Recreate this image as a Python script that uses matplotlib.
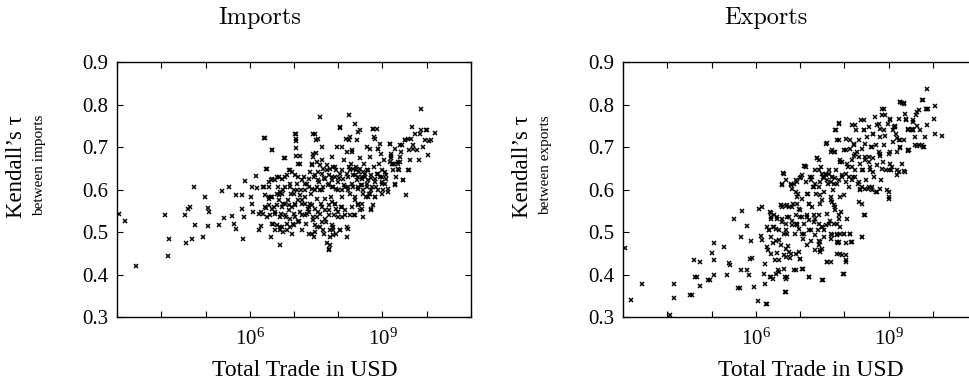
import matplotlib
matplotlib.use("Agg")
import matplotlib.pyplot as plt
from matplotlib.ticker import FixedLocator, FixedFormatter

plt.rcParams['font.family'] = ['Liberation Serif', 'DejaVu Serif']
plt.rcParams['mathtext.fontset'] = 'custom'
plt.rcParams['mathtext.rm'] = 'Liberation Serif'
plt.rcParams['mathtext.it'] = 'Liberation Serif:italic'

# ---------------- data (log10 of total trade in USD, Kendall's tau) ----------------
imports_log_trade = [
    3.05, 3.19, 3.44, 4.08, 4.16, 4.18, 4.53, 4.57, 4.61, 4.65, 4.70, 4.75, 4.76, 4.94, 4.99,
    5.05, 5.06, 5.08, 5.30, 5.38, 5.41, 5.52, 5.61, 5.64, 5.68, 5.69, 5.83, 5.83, 5.85, 5.90, 5.88,
    6.02, 6.04, 6.07, 6.05, 6.15, 6.17, 6.20, 6.22, 6.26, 6.25,
    6.32, 6.32, 6.37, 6.38, 6.43, 6.44, 6.47, 6.50, 6.47, 6.49, 6.52, 6.55, 6.58, 6.62, 6.64, 6.65, 6.67, 6.69, 6.71, 6.68,
    6.73, 6.75, 6.77, 6.79, 6.80, 6.82, 6.84, 6.86, 6.88, 6.90, 6.92, 6.94, 6.95, 6.97, 6.99, 7.01, 7.03, 7.04, 7.05, 7.05,
    7.07, 7.09, 7.10, 7.12, 7.14, 7.14, 7.16, 7.18, 7.19, 7.22, 7.24, 7.25, 7.28, 7.29, 7.31, 7.33, 7.34, 7.37, 7.39, 7.40,
    7.42, 7.44, 7.44, 7.46, 7.46, 7.48, 7.49, 7.52, 7.53, 7.55, 7.57, 7.58, 7.59, 7.61, 7.63, 7.64, 7.67, 7.68, 7.70, 7.72,
    7.74, 7.75, 7.76, 7.78, 7.78,
    7.79, 7.82, 7.82, 7.84, 7.85, 7.87, 7.88, 7.89, 7.91, 7.93, 7.93, 7.94, 7.97, 7.99, 8.00, 8.02, 8.04, 8.05, 8.06, 8.08,
    8.09, 8.12, 8.14, 8.15,
    8.17, 8.19, 8.21, 8.21, 8.23, 8.24, 8.24, 8.27, 8.27, 8.29, 8.30, 8.32, 8.34, 8.36, 8.38, 8.38, 8.39, 8.42, 8.42, 8.44,
    8.45, 8.47, 8.49, 8.49, 8.51, 8.53,
    8.54, 8.57, 8.59, 8.60, 8.62, 8.64, 8.66, 8.68, 8.69, 8.72, 8.74, 8.75, 8.77, 8.79, 8.80, 8.81, 8.83, 8.84, 8.87, 8.87,
    8.89, 8.90,
    8.92, 8.94, 8.96, 8.98, 8.99, 9.00, 9.02, 9.04, 9.05, 9.09, 9.13,
    9.17, 9.19, 9.20, 9.22, 9.24, 9.26, 9.28, 9.30, 9.34, 9.35, 9.37, 9.39, 9.41, 9.43, 9.47, 9.50, 9.54, 9.58, 9.62, 9.64,
    9.67, 9.70, 9.74, 9.79, 9.83, 9.84, 9.86, 9.88, 9.92, 9.95, 9.99, 10.01, 10.03, 10.06, 10.19, 10.10,
]
imports_tau = [
    0.542, 0.525, 0.419, 0.540, 0.444, 0.484, 0.541, 0.473, 0.554, 0.560, 0.483, 0.606, 0.516, 0.488, 0.582,
    0.513, 0.556, 0.547, 0.516, 0.597, 0.534, 0.607, 0.537, 0.520, 0.588, 0.508, 0.586, 0.555, 0.484, 0.620, 0.535,
    0.582, 0.606, 0.547, 0.567, 0.632, 0.604, 0.543, 0.504, 0.513, 0.547,
    0.607, 0.722, 0.557, 0.649, 0.578, 0.606, 0.622, 0.694, 0.488, 0.582, 0.520, 0.559, 0.547, 0.629, 0.606, 0.575, 0.586, 0.512, 0.543, 0.469,
    0.590, 0.567, 0.673, 0.606, 0.629, 0.535, 0.504, 0.575, 0.551, 0.614, 0.645, 0.590, 0.496, 0.520, 0.598, 0.543, 0.563, 0.698, 0.720, 0.730,
    0.614, 0.661, 0.575, 0.527, 0.680, 0.547, 0.598, 0.504, 0.567, 0.629, 0.539, 0.582, 0.520, 0.614, 0.555, 0.496, 0.547, 0.567, 0.590, 0.661,
    0.683, 0.731, 0.535, 0.488, 0.629, 0.598, 0.716, 0.578, 0.512, 0.641, 0.618, 0.771, 0.543, 0.567, 0.669, 0.598, 0.496, 0.626, 0.578, 0.524,
    0.473, 0.645, 0.610, 0.461, 0.551,
    0.457, 0.469, 0.504, 0.582, 0.677, 0.629, 0.512, 0.606, 0.539, 0.567, 0.653, 0.496, 0.700, 0.598, 0.535, 0.626, 0.746, 0.504, 0.559, 0.582,
    0.645, 0.610, 0.669, 0.539,
    0.720, 0.488, 0.606, 0.508, 0.629, 0.775, 0.653, 0.539, 0.590, 0.661, 0.614, 0.692, 0.633, 0.539, 0.753, 0.582, 0.653, 0.622, 0.716, 0.606,
    0.567, 0.641, 0.739, 0.673, 0.610, 0.555,
    0.629, 0.598, 0.661, 0.637, 0.582, 0.614, 0.700, 0.645, 0.590, 0.677, 0.626, 0.551, 0.606, 0.743, 0.653, 0.724, 0.582, 0.618, 0.637, 0.743,
    0.598, 0.696,
    0.661, 0.629, 0.684, 0.590, 0.645, 0.618, 0.598, 0.669, 0.614, 0.633, 0.594,
    0.708, 0.684, 0.673, 0.661, 0.645, 0.661, 0.614, 0.629, 0.649, 0.665, 0.645, 0.677, 0.688, 0.704, 0.622, 0.716, 0.586, 0.645, 0.669, 0.720,
    0.747, 0.704, 0.731, 0.692, 0.669, 0.731, 0.789, 0.739, 0.700, 0.716, 0.741, 0.739, 0.681, 0.714, 0.734, 0.716,
]

# denser core of the imports cloud, read from a close-up (log10 trade, tau)
imports_core_points = [
    (7.03, 0.731), (7.05, 0.714), (7.48, 0.730), (7.55, 0.720), (6.34, 0.721), (6.50, 0.694),
    (6.79, 0.673), (7.05, 0.678), (7.14, 0.659), (6.37, 0.649), (7.63, 0.700), (7.49, 0.686),
    (7.44, 0.677), (8.08, 0.700), (8.19, 0.688), (8.30, 0.688), (8.24, 0.717), (8.26, 0.724),
    (8.71, 0.696), (8.83, 0.720), (8.94, 0.708), (8.90, 0.696), (9.17, 0.708), (9.28, 0.696),
    (9.39, 0.704), (9.50, 0.716), (9.58, 0.720), (9.61, 0.692), (9.69, 0.696), (9.20, 0.680),
    (9.24, 0.661), (9.35, 0.661), (9.39, 0.665), (9.17, 0.665), (9.61, 0.645), (9.47, 0.622),
    (9.28, 0.610), (9.13, 0.602), (8.05, 0.745), (8.45, 0.735), (8.79, 0.743),
    (7.40, 0.657), (7.51, 0.665), (7.59, 0.657), (7.66, 0.649), (7.74, 0.657), (7.81, 0.649),
    (7.89, 0.653), (7.96, 0.645), (8.04, 0.637), (7.93, 0.629), (7.78, 0.633), (7.63, 0.637),
    (7.48, 0.633), (7.36, 0.641), (7.33, 0.625), (7.55, 0.622), (7.70, 0.625), (7.85, 0.622),
    (8.00, 0.618), (8.11, 0.625), (8.19, 0.637), (8.26, 0.645), (8.34, 0.649), (8.41, 0.645),
    (8.49, 0.649), (8.57, 0.641), (8.64, 0.645), (8.38, 0.633), (8.45, 0.629), (8.53, 0.625),
    (8.60, 0.629), (8.68, 0.622), (8.75, 0.633), (8.83, 0.625), (8.90, 0.637), (8.98, 0.629),
    (9.05, 0.641), (9.09, 0.625), (8.98, 0.614), (8.86, 0.606), (8.75, 0.598), (8.64, 0.606),
    (8.53, 0.610), (8.45, 0.602), (8.34, 0.606), (8.57, 0.590), (8.68, 0.582), (8.71, 0.590),
    (8.83, 0.582), (8.23, 0.598), (8.15, 0.606), (8.08, 0.598), (7.96, 0.602), (7.85, 0.606),
    (7.78, 0.614), (7.66, 0.606), (7.59, 0.598), (7.51, 0.606), (7.40, 0.602), (7.33, 0.606),
    (7.25, 0.614), (7.18, 0.622), (7.10, 0.629), (7.03, 0.633), (6.95, 0.641), (6.88, 0.645),
    (6.84, 0.633), (6.73, 0.625), (6.65, 0.629), (6.58, 0.622), (6.50, 0.625), (6.43, 0.618),
    (6.31, 0.606), (6.35, 0.586), (6.43, 0.582), (6.50, 0.582), (6.61, 0.590), (6.69, 0.594),
    (6.76, 0.598), (6.91, 0.606), (6.99, 0.590), (7.06, 0.598), (7.14, 0.586), (7.25, 0.598),
    (7.18, 0.575), (7.25, 0.567), (7.33, 0.559), (7.40, 0.563), (7.48, 0.555), (7.55, 0.547),
    (7.63, 0.559), (7.70, 0.551), (7.78, 0.563), (7.85, 0.571), (7.93, 0.567), (7.96, 0.555),
    (8.00, 0.547), (8.08, 0.559), (7.78, 0.539), (7.70, 0.531), (7.63, 0.524), (7.51, 0.535),
    (7.44, 0.528), (7.48, 0.516), (7.59, 0.512), (7.85, 0.516), (7.89, 0.504), (7.89, 0.492),
    (7.81, 0.488), (7.66, 0.504), (7.03, 0.567), (6.95, 0.559), (6.88, 0.563), (6.80, 0.567),
    (6.73, 0.559), (6.61, 0.563), (6.50, 0.555), (6.43, 0.563), (6.35, 0.559), (6.31, 0.543),
    (6.39, 0.535), (6.46, 0.539), (6.58, 0.543), (6.69, 0.535), (6.80, 0.539), (6.91, 0.531),
    (7.03, 0.535), (7.10, 0.524), (7.18, 0.539), (7.29, 0.543), (6.50, 0.520), (6.61, 0.516),
    (6.73, 0.512), (6.84, 0.520), (6.91, 0.512), (6.99, 0.516), (6.69, 0.504), (6.76, 0.500),
    (6.58, 0.504), (7.40, 0.496), (7.48, 0.500), (8.08, 0.535), (8.15, 0.551), (8.30, 0.559),
    (8.38, 0.575), (8.45, 0.563), (8.49, 0.551), (8.53, 0.567), (8.79, 0.563), (8.75, 0.555),
    (8.57, 0.535), (8.38, 0.539), (8.19, 0.512), (8.04, 0.504),
]

exports_log_trade = [
    3.04, 3.17, 3.44, 4.07, 4.15, 4.16, 4.52, 4.56, 4.60, 4.63, 4.67, 4.75, 4.75, 4.93, 4.97, 5.02, 5.05, 5.06, 5.06,
    5.29, 5.36, 5.40, 5.42, 5.51, 5.61, 5.65, 5.68, 5.66, 5.66, 5.80, 5.81, 5.85, 5.89, 5.87, 5.92, 5.96,
    6.05, 6.08, 6.11, 6.14, 6.15, 6.19, 6.20, 6.21, 6.23, 6.28, 6.30, 6.32, 6.34, 6.35, 6.38, 6.41, 6.44, 6.47, 6.49,
    6.50, 6.53, 6.56, 6.59, 6.60, 6.62, 6.64, 6.65, 6.66, 6.68, 6.70, 6.71, 6.73, 6.75, 6.77, 6.79, 6.83, 6.85, 6.86,
    6.89, 6.90, 6.92, 6.94, 6.95, 6.98, 7.00, 7.01, 7.03, 7.04, 7.05, 7.07, 7.07, 7.09, 7.10, 7.13, 7.15, 7.16, 7.18,
    7.20, 7.20, 7.22, 7.24, 7.25, 7.28, 7.29, 7.31, 7.33, 7.35, 7.37, 7.39, 7.40, 7.43, 7.43, 7.45, 7.46, 7.48, 7.50,
    7.51, 7.52, 7.54, 7.55, 7.58, 7.58, 7.60, 7.61, 7.63, 7.65, 7.67, 7.69, 7.69, 7.70, 7.73, 7.75, 7.76, 7.78, 7.80,
    7.80, 7.82, 7.84, 7.84, 7.85, 7.88, 7.88, 7.90, 7.91, 7.93, 7.95, 7.96, 7.97, 7.99, 8.00, 8.03, 8.03, 8.05, 8.06,
    8.08, 8.10, 8.12, 8.14, 8.15, 8.18, 8.18, 8.20, 8.21, 8.23, 8.25, 8.27, 8.29, 8.30, 8.33, 8.35, 8.36, 8.38, 8.39,
    8.40, 8.41, 8.42, 8.44, 8.45, 8.48, 8.50, 8.51, 8.53, 8.55, 8.57, 8.59, 8.60, 8.63, 8.65, 8.66, 8.68, 8.70, 8.72,
    8.74, 8.75, 8.78, 8.80, 8.81, 8.83, 8.85, 8.87, 8.89, 8.90, 8.93, 8.95, 8.98, 9.00, 9.00, 9.02, 9.04, 9.06, 9.10,
    9.13, 9.17, 9.19, 9.20, 9.23, 9.25, 9.26, 9.30, 9.34, 9.35, 9.38, 9.40, 9.43, 9.47, 9.53, 9.56, 9.60, 9.62, 9.65,
    9.68, 9.71, 9.77, 9.79, 9.83, 9.85, 9.86, 9.88, 9.90, 9.87, 10.05, 10.02, 10.04, 10.20, 9.80, 9.65, 9.64, 9.55,
    9.45, 9.30, 9.39, 9.56, 9.19, 9.26, 9.15, 9.11,
]
exports_tau = [
    0.463, 0.341, 0.377, 0.304, 0.377, 0.345, 0.351, 0.351, 0.433, 0.394, 0.394, 0.429, 0.373, 0.388, 0.388, 0.451, 0.433, 0.473, 0.400,
    0.465, 0.400, 0.428, 0.422, 0.531, 0.368, 0.368, 0.549, 0.488, 0.411, 0.515, 0.410, 0.398, 0.480, 0.437, 0.440, 0.371,
    0.337, 0.555, 0.491, 0.559, 0.482, 0.402, 0.425, 0.377, 0.331, 0.457, 0.504, 0.394, 0.545, 0.531, 0.473, 0.512, 0.433, 0.451, 0.531,
    0.410, 0.482, 0.563, 0.524, 0.612, 0.639, 0.445, 0.394, 0.358, 0.504, 0.496, 0.563, 0.466, 0.535, 0.440, 0.614, 0.527, 0.567, 0.411,
    0.496, 0.622, 0.520, 0.516, 0.590, 0.453, 0.437, 0.551, 0.629, 0.496, 0.578, 0.414, 0.484, 0.655, 0.520, 0.618, 0.535, 0.469, 0.590,
    0.394, 0.567, 0.629, 0.504, 0.480, 0.559, 0.606, 0.524, 0.645, 0.457, 0.590, 0.673, 0.504, 0.539, 0.469, 0.618, 0.567, 0.653, 0.512,
    0.386, 0.629, 0.594, 0.504, 0.708, 0.637, 0.543, 0.429, 0.614, 0.645, 0.527, 0.688, 0.484, 0.575, 0.629, 0.598, 0.520, 0.688, 0.739,
    0.559, 0.645, 0.614, 0.492, 0.473, 0.755, 0.531, 0.665, 0.582, 0.547, 0.629, 0.445, 0.402, 0.692, 0.496, 0.618, 0.433, 0.720, 0.531,
    0.653, 0.606, 0.696, 0.496, 0.476, 0.669, 0.751, 0.629, 0.708, 0.680, 0.645, 0.739, 0.688, 0.614, 0.716, 0.661, 0.598, 0.763, 0.567,
    0.488, 0.696, 0.645, 0.739, 0.539, 0.676, 0.622, 0.724, 0.602, 0.665, 0.747, 0.645, 0.700, 0.606, 0.731, 0.673, 0.629, 0.771, 0.704,
    0.657, 0.594, 0.755, 0.684, 0.724, 0.622, 0.790, 0.665, 0.739, 0.704, 0.775, 0.645, 0.755, 0.594, 0.578, 0.684, 0.767, 0.645, 0.712,
    0.747, 0.731, 0.688, 0.645, 0.767, 0.716, 0.806, 0.661, 0.716, 0.804, 0.641, 0.764, 0.743, 0.692, 0.739, 0.759, 0.724, 0.775, 0.782,
    0.704, 0.739, 0.810, 0.700, 0.724, 0.790, 0.837, 0.751, 0.790, 0.790, 0.796, 0.767, 0.731, 0.726, 0.700, 0.702, 0.749, 0.741,
    0.691, 0.804, 0.765, 0.739, 0.722, 0.698, 0.749, 0.741,
]

# denser core of the exports cloud, read from a close-up (log10 trade, tau)
exports_core_points = [
    (9.75, 0.811), (9.26, 0.806), (9.34, 0.802), (9.68, 0.786), (8.89, 0.790), (9.38, 0.778),
    (8.85, 0.775), (9.04, 0.763), (9.56, 0.763), (8.44, 0.763), (7.88, 0.757), (8.25, 0.751),
    (8.74, 0.751), (8.81, 0.743), (9.15, 0.747), (9.45, 0.739), (7.82, 0.739), (8.44, 0.739),
    (8.66, 0.731), (8.93, 0.727), (9.23, 0.716), (9.53, 0.743), (9.60, 0.704), (9.75, 0.704),
    (9.45, 0.692), (9.26, 0.700), (7.60, 0.710), (7.84, 0.716), (7.89, 0.717), (8.14, 0.716),
    (8.21, 0.704), (8.48, 0.708), (8.63, 0.700), (8.78, 0.688), (8.81, 0.680), (9.04, 0.688),
    (7.73, 0.692), (7.76, 0.688), (8.03, 0.692), (8.25, 0.684), (8.33, 0.677), (8.48, 0.669),
    (8.55, 0.677), (7.39, 0.673), (7.43, 0.669), (7.11, 0.655), (7.14, 0.652), (7.91, 0.669),
    (7.95, 0.665), (8.06, 0.661), (8.18, 0.653), (8.40, 0.645), (8.59, 0.653), (8.66, 0.641),
    (8.85, 0.649), (9.04, 0.661), (9.08, 0.653), (9.23, 0.641), (9.34, 0.643), (9.19, 0.633),
    (9.00, 0.645), (7.43, 0.645), (7.50, 0.637), (7.58, 0.633), (7.65, 0.637), (7.73, 0.630),
    (7.80, 0.626), (7.54, 0.626), (7.61, 0.622), (7.69, 0.618), (7.76, 0.614), (7.88, 0.622),
    (7.95, 0.633), (8.03, 0.637), (8.10, 0.630), (8.18, 0.622), (8.25, 0.630), (8.33, 0.618),
    (8.40, 0.606), (8.48, 0.602), (8.55, 0.606), (8.63, 0.598), (8.36, 0.602), (7.28, 0.630),
    (7.31, 0.606), (7.24, 0.622), (7.35, 0.614), (7.05, 0.633), (7.01, 0.626), (6.94, 0.618),
    (6.64, 0.637), (6.60, 0.610), (6.79, 0.611), (6.86, 0.612), (6.68, 0.622), (6.83, 0.602),
    (6.90, 0.594), (6.94, 0.582), (7.16, 0.590), (7.20, 0.567), (7.43, 0.606), (7.46, 0.586),
    (7.50, 0.575), (7.69, 0.582), (7.73, 0.571), (7.76, 0.563), (7.80, 0.551), (7.88, 0.539),
    (7.91, 0.512), (7.99, 0.586), (8.33, 0.571), (8.46, 0.539), (8.96, 0.598), (9.00, 0.582),
    (8.81, 0.602), (8.72, 0.594), (6.56, 0.563), (6.60, 0.559), (6.68, 0.561), (6.75, 0.559),
    (6.83, 0.559), (6.94, 0.567), (6.98, 0.555), (7.05, 0.535), (7.16, 0.539), (7.20, 0.528),
    (7.31, 0.539), (7.35, 0.531), (7.43, 0.520), (7.50, 0.512), (7.58, 0.516), (7.65, 0.520),
    (7.84, 0.520), (6.32, 0.547), (6.34, 0.535), (6.41, 0.539), (6.49, 0.535), (6.60, 0.531),
    (6.71, 0.535), (6.90, 0.539), (7.01, 0.535), (6.26, 0.512), (6.30, 0.504), (6.38, 0.512),
    (6.45, 0.508), (6.53, 0.504), (6.64, 0.496), (6.68, 0.520), (6.83, 0.516), (6.94, 0.520),
    (6.98, 0.508), (7.09, 0.496), (7.20, 0.504), (7.35, 0.492), (7.43, 0.480), (7.46, 0.477),
    (7.54, 0.488), (7.69, 0.496), (7.73, 0.492), (7.84, 0.496), (7.91, 0.496), (7.99, 0.496),
    (8.14, 0.496), (7.84, 0.477), (7.88, 0.477), (8.03, 0.473), (8.18, 0.477), (8.40, 0.488),
    (6.34, 0.488), (6.45, 0.480), (6.56, 0.469), (6.68, 0.461), (6.75, 0.453), (6.79, 0.449),
    (6.90, 0.449), (7.01, 0.437), (6.68, 0.441), (6.53, 0.433), (6.34, 0.449), (6.26, 0.465),
    (7.84, 0.449), (7.91, 0.449), (8.03, 0.445), (8.03, 0.430), (7.61, 0.430), (7.69, 0.430),
    (7.46, 0.457), (7.50, 0.461), (7.46, 0.453), (6.45, 0.402), (6.53, 0.406), (6.64, 0.414),
    (6.71, 0.394), (6.68, 0.390), (6.38, 0.390), (6.34, 0.394), (6.90, 0.410), (7.05, 0.414),
    (7.20, 0.394), (7.50, 0.386), (7.99, 0.402), (6.68, 0.359), (6.26, 0.331),
]

x_tick_exponents = [3, 4, 5, 6, 7, 8, 9, 10, 11]
x_labeled_exponents = [6, 9]
y_ticks = [0.3, 0.4, 0.5, 0.6, 0.7, 0.8, 0.9]
panel_titles = ["Imports", "Exports"]
y_label_main = "Kendall\u2019s \u03c4"
y_label_sub = ["between imports", "between exports"]
x_label = "Total Trade in USD"

# ---------------- figure ----------------
W, H = 970, 381
fig = plt.figure(figsize=(W / 100, H / 100), dpi=100)

def fx(px):
    return px / W

def fy(py):
    return 1 - py / H

ax_left_px = [117, 623]
ax_top_px, ax_bot_px = 62, 317
ax_w_px = 354

panels = [
    (imports_log_trade + [p[0] for p in imports_core_points],
     imports_tau + [p[1] for p in imports_core_points]),
    (exports_log_trade + [p[0] for p in exports_core_points],
     exports_tau + [p[1] for p in exports_core_points]),
]

for i, (lt, tau) in enumerate(panels):
    ax = fig.add_axes([fx(ax_left_px[i]), fy(ax_bot_px), ax_w_px / W, (ax_bot_px - ax_top_px) / H])
    xs = [10 ** v for v in lt]
    ax.plot(xs, tau, linestyle='none', marker='x', color='black',
            markersize=3.5, markeredgewidth=1.1)
    ax.set_xscale('log')
    ax.set_xlim(10 ** x_tick_exponents[0], 10 ** x_tick_exponents[-1])
    ax.set_ylim(y_ticks[0], y_ticks[-1])
    ax.xaxis.set_major_locator(FixedLocator([10.0 ** e for e in x_tick_exponents]))
    ax.xaxis.set_major_formatter(FixedFormatter(
        [r'$10^{%d}$' % e if e in x_labeled_exponents else '' for e in x_tick_exponents]))
    ax.xaxis.set_minor_locator(FixedLocator([]))
    ax.set_yticks(y_ticks)
    ax.set_yticklabels(['%.1f' % v for v in y_ticks])
    ax.tick_params(direction='in', length=4.5, width=0.8, top=True, right=True,
                   labelsize=15, pad=6, colors='black')
    ax.tick_params(axis='x', pad=8)
    for s in ax.spines.values():
        s.set_linewidth(1.0)
    ax.set_facecolor('white')

    off = ax_left_px[i] - ax_left_px[0]
    fig.text(fx(260 + off), fy(18), panel_titles[i], family='cmr10', fontsize=17.5,
             ha='center', va='center')
    fig.text(fx(305 + off), fy(370), x_label, fontsize=17, ha='center', va='center')
    fig.text(fx(17 + off), fy(167), y_label_main, fontsize=16.5, rotation=90,
             ha='center', va='center')
    fig.text(fx(40 + off), fy(165), y_label_sub[i], fontsize=11, rotation=90,
             ha='center', va='center')

fig.savefig('out.png', dpi=100, facecolor='white')
